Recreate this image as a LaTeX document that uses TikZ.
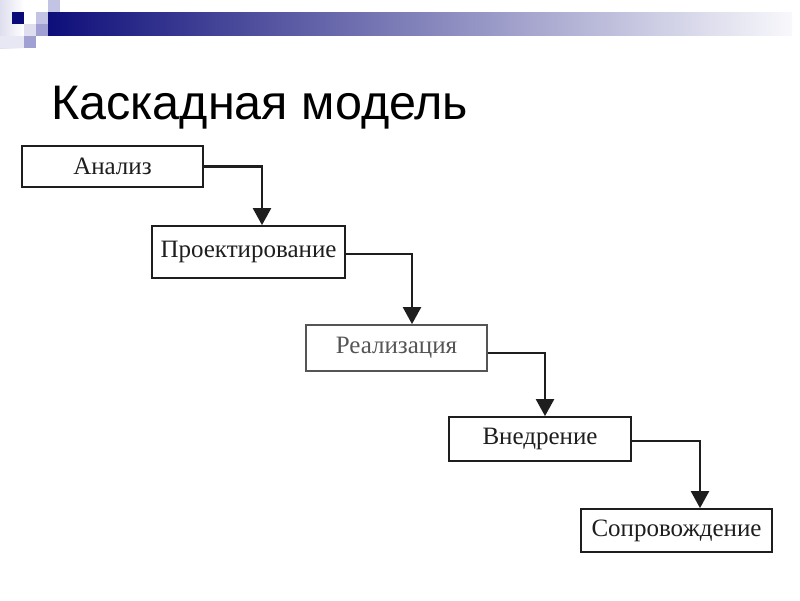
\documentclass[tikz,border=0pt]{standalone}
\usepackage{fontspec}
\setmainfont{Liberation Serif}
\newfontfamily\titlefont{Liberation Sans}
\usetikzlibrary{arrows.meta}
\definecolor{navybar}{RGB}{14,14,122}
\definecolor{fadebar}{RGB}{248,248,252}
\definecolor{sqnavy}{RGB}{10,10,120}
\definecolor{sqA}{RGB}{195,195,228}
\definecolor{sqB}{RGB}{160,160,210}
\definecolor{sqC}{RGB}{222,222,238}
\definecolor{sqD}{RGB}{232,232,244}
\definecolor{linegray}{RGB}{30,30,30}
\definecolor{softgray}{RGB}{85,85,85}
\tikzset{
  stagebox/.style={draw=linegray, line width=1.8pt, fill=white, inner sep=0pt,
    font=\fontsize{25}{28}\selectfont, text=linegray},
  flowarrow/.style={draw=linegray, line width=2.4pt,
    -{Triangle[width=18pt,length=17pt]}},
}
\begin{document}
\begin{tikzpicture}[x=1pt,y=-1pt]
\useasboundingbox (0,0) rectangle (800,600);
\fill[white] (0,0) rectangle (800,600);
% decoration top-left
\fill[left color=sqC, right color=white] (0,0) rectangle (24,48);
\fill[sqD] (0,36) rectangle (24,48);
\fill[sqnavy] (12,12) rectangle (24,24);
\fill[sqA] (48,0) rectangle (60,12);
\fill[sqA] (36,12) rectangle (48,24);
\fill[sqC] (24,24) rectangle (36,36);
\fill[sqB] (36,24) rectangle (48,36);
\fill[sqB] (24,36) rectangle (36,48);
% top bar
\fill[left color=navybar, right color=fadebar] (48,12) rectangle (792,35);
% title
\node[anchor=base west, inner sep=0pt, font=\titlefont\fontsize{48.5}{54}\selectfont] (title) at (51,119) {Каскадная модель};
% stages
\node[stagebox, minimum width=181pt, minimum height=41pt] (analiz) at (112.5,166.5) {Анализ};
\node[stagebox, minimum width=193pt, minimum height=52pt] (proekt) at (248.5,252) {Проектирование};
\node[stagebox, draw=softgray, text=softgray, minimum width=181pt, minimum height=46pt] (realiz) at (396.5,348) {Реализация};
\node[stagebox, minimum width=182pt, minimum height=44pt] (vnedr) at (540,439) {Внедрение};
\node[stagebox, minimum width=191pt, minimum height=43pt] (soprov) at (676.5,530.5) {Сопровождение};
% connectors
\draw[flowarrow] (analiz.east) -| ([xshift=13.5pt]proekt.north);
\draw[flowarrow] ([yshift=-2pt]proekt.east) -| ([xshift=15.5pt]realiz.north);
\draw[flowarrow] ([yshift=-5pt]realiz.east) -| ([xshift=5pt]vnedr.north);
\draw[flowarrow] ([yshift=-2pt]vnedr.east) -| ([xshift=23.5pt]soprov.north);
\end{tikzpicture}
\end{document}
